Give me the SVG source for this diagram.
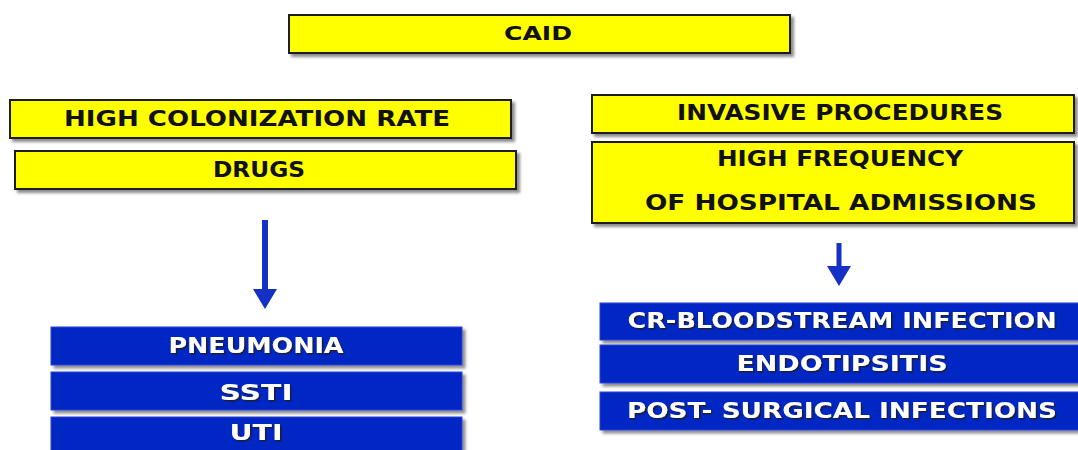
<svg xmlns="http://www.w3.org/2000/svg" width="1078" height="450" viewBox="0 0 1078 450">
  <defs>
    <filter id="boxShadow" x="-5%" y="-30%" width="110%" height="170%">
      <feDropShadow dx="3" dy="3" stdDeviation="1.8" flood-color="#000" flood-opacity="0.45"/>
    </filter>
    <filter id="textShadow" x="-5%" y="-30%" width="110%" height="170%">
      <feDropShadow dx="1.5" dy="1.5" stdDeviation="0.4" flood-color="#1a1a1a" flood-opacity="0.9"/>
    </filter>
    <marker id="head" markerUnits="userSpaceOnUse" viewBox="0 0 20 24" markerWidth="20" markerHeight="24" refX="1" refY="12" orient="auto">
      <path d="M0,0 L20,12 L0,24 z" fill="#1530c4"/>
    </marker>
  </defs>
  <style>
    .yellow { fill: #ffff00; stroke: #1a1a1a; stroke-width: 2; filter: url(#boxShadow); }
    .blue { fill: #0626c4; stroke: #2a45d8; stroke-width: 1; filter: url(#boxShadow); }
    .dark { font-family: "DejaVu Sans", "Liberation Sans", sans-serif; font-weight: bold; font-size: 21px; fill: #111; text-anchor: middle; }
    .light { font-family: "DejaVu Sans", "Liberation Sans", sans-serif; font-weight: bold; font-size: 21px; fill: #ffffff; text-anchor: middle; filter: url(#textShadow); }
    .arrow { stroke: #1530c4; fill: none; marker-end: url(#head); }
  </style>

  <rect width="1078" height="450" fill="#ffffff"/>

  <!-- top node -->
  <g id="caid">
    <rect class="yellow" x="289" y="15" width="501" height="38"/>
    <text class="dark" x="538" y="40" textLength="68" lengthAdjust="spacingAndGlyphs" style="font-size:20px">CAID</text>
  </g>

  <!-- left column: risk factors -->
  <g id="colonization">
    <rect class="yellow" x="10" y="100" width="501" height="38"/>
    <text class="dark" x="257" y="126" textLength="386" lengthAdjust="spacingAndGlyphs">HIGH  COLONIZATION RATE</text>
  </g>
  <g id="drugs">
    <rect class="yellow" x="15" y="151" width="501" height="38"/>
    <text class="dark" x="259" y="177" textLength="92" lengthAdjust="spacingAndGlyphs">DRUGS</text>
  </g>

  <!-- right column: risk factors -->
  <g id="invasive">
    <rect class="yellow" x="592" y="95" width="482" height="38"/>
    <text class="dark" x="840" y="120" textLength="326" lengthAdjust="spacingAndGlyphs">INVASIVE PROCEDURES</text>
  </g>
  <g id="admissions">
    <rect class="yellow" x="592" y="142" width="482" height="81"/>
    <text class="dark" x="840" y="166" textLength="246" lengthAdjust="spacingAndGlyphs">HIGH  FREQUENCY</text>
    <text class="dark" x="841" y="210" textLength="392" lengthAdjust="spacingAndGlyphs">OF HOSPITAL ADMISSIONS</text>
  </g>

  <!-- left column: infections -->
  <g id="pneumonia">
    <rect class="blue" x="51" y="327" width="411" height="38"/>
    <text class="light" x="256" y="353" textLength="175" lengthAdjust="spacingAndGlyphs">PNEUMONIA</text>
  </g>
  <g id="ssti">
    <rect class="blue" x="51" y="372" width="411" height="38"/>
    <text class="light" x="256" y="400" textLength="73" lengthAdjust="spacingAndGlyphs">SSTI</text>
  </g>
  <g id="uti">
    <rect class="blue" x="51" y="417" width="411" height="40"/>
    <text class="light" x="256" y="440" textLength="53" lengthAdjust="spacingAndGlyphs">UTI</text>
  </g>

  <!-- right column: infections -->
  <g id="bloodstream">
    <rect class="blue" x="600" y="303" width="482" height="37"/>
    <text class="light" x="842" y="328" textLength="429" lengthAdjust="spacingAndGlyphs">CR-BLOODSTREAM INFECTION</text>
  </g>
  <g id="endotipsitis">
    <rect class="blue" x="600" y="345" width="482" height="38"/>
    <text class="light" x="842" y="371" textLength="211" lengthAdjust="spacingAndGlyphs">ENDOTIPSITIS</text>
  </g>
  <g id="postsurgical">
    <rect class="blue" x="600" y="392" width="482" height="38"/>
    <text class="light" x="842" y="418" textLength="430" lengthAdjust="spacingAndGlyphs">POST- SURGICAL INFECTIONS</text>
  </g>

  <!-- connectors -->
  <g id="connectors">
    <line class="arrow" x1="265" y1="220" x2="265" y2="290" stroke-width="6"/>
    <line class="arrow" x1="839" y1="243" x2="839" y2="267" stroke-width="5"/>
  </g>
</svg>
